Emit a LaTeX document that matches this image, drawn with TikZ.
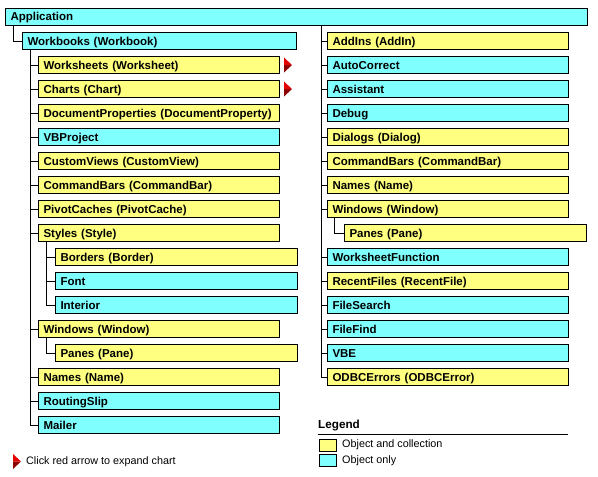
\documentclass[tikz,border=0pt]{standalone}
\usepackage{fontspec}
\newfontfamily\chartfont{Liberation Sans}
\definecolor{collfill}{rgb}{1.000000, 1.000000, 0.500000}
\definecolor{onlyfill}{rgb}{0.500000, 1.000000, 1.000000}
\definecolor{arrowlight}{rgb}{0.900000, 0.000000, 0.000000}
\definecolor{arrowdark}{rgb}{0.560000, 0.000000, 0.000000}
\newlength{\du}
\setlength{\du}{1pt}
\hyphenpenalty=10000
\newcommand{\expandarrow}[1]{%
\fill[arrowlight] #1 ++(0\du,-7.5\du) -- ++(8\du,7.5\du) -- ++(-8\du,0\du) -- cycle;
\fill[arrowdark] #1 -- ++(8\du,0\du) -- ++(-8\du,7.5\du) -- cycle;}
\tikzset{
  objbox/.style={draw=black, line width=1\du, rectangle, anchor=west, minimum height=17\du,
    inner xsep=5\du, inner ysep=0pt, align=left, text width=231\du,
    text height=10\du, text depth=1.8\du,
    font=\chartfont\bfseries\fontsize{11.5}{13}\selectfont},
  collbox/.style={objbox, fill=collfill},
  onlybox/.style={objbox, fill=onlyfill},
  subbox/.style={text width=232\du},
  swatch/.style={draw=black, line width=1\du, anchor=west, minimum width=17\du,
    minimum height=12\du, inner sep=0pt},
  note/.style={anchor=west, inner sep=0pt, font=\chartfont\fontsize{10.8}{13}\selectfont},
  link/.style={draw=black, line width=1\du},
}
\begin{document}
\begin{tikzpicture}
\pgftransformxscale{1.000000}
\pgftransformyscale{-1.000000}
\fill[white] (0\du,0\du) rectangle (598\du,477\du);
\useasboundingbox (0\du,0\du) rectangle (598\du,477\du);
% root
\node[onlybox, text width=572\du] (app) at (5\du,16.5\du){Application};
\node[onlybox, text width=264\du] (wb) at (22\du,41\du){Workbooks (Workbook)};
% left column
\node[collbox] (wsh) at (38\du,65\du){Worksheets (Worksheet)};
\node[collbox] (cht) at (38\du,89\du){Charts (Chart)};
\node[collbox] (docp) at (38\du,113\du){DocumentProperties (DocumentProperty)};
\node[onlybox] (vbp) at (38\du,137\du){VBProject};
\node[collbox] (cview) at (38\du,161\du){CustomViews (CustomView)};
\node[collbox] (lcbar) at (38\du,185\du){CommandBars (CommandBar)};
\node[collbox] (pcache) at (38\du,209\du){PivotCaches (PivotCache)};
\node[collbox] (sty) at (38\du,233\du){Styles (Style)};
\node[collbox, subbox] (brd) at (55\du,257\du){Borders (Border)};
\node[onlybox, subbox] (fnt) at (55\du,281\du){Font};
\node[onlybox, subbox] (intr) at (55\du,305\du){Interior};
\node[collbox] (lwin) at (38\du,329\du){Windows (Window)};
\node[collbox, subbox] (lpane) at (55\du,353\du){Panes (Pane)};
\node[collbox] (lname) at (38\du,377\du){Names (Name)};
\node[onlybox] (rslip) at (38\du,401\du){RoutingSlip};
\node[onlybox] (mail) at (38\du,425\du){Mailer};
% right column
\node[collbox] (addin) at (327\du,41\du){AddIns (AddIn)};
\node[onlybox] (acorr) at (327\du,65\du){AutoCorrect};
\node[onlybox] (asst) at (327\du,89\du){Assistant};
\node[onlybox] (dbg) at (327\du,113\du){Debug};
\node[collbox] (dlg) at (327\du,137\du){Dialogs (Dialog)};
\node[collbox] (rcbar) at (327\du,161\du){CommandBars (CommandBar)};
\node[collbox] (rname) at (327\du,185\du){Names (Name)};
\node[collbox] (rwin) at (327\du,209\du){Windows (Window)};
\node[collbox, subbox] (rpane) at (344\du,233\du){Panes (Pane)};
\node[onlybox] (wsfn) at (327\du,257\du){WorksheetFunction};
\node[collbox] (rfile) at (327\du,281\du){RecentFiles (RecentFile)};
\node[onlybox] (fsearch) at (327\du,305\du){FileSearch};
\node[onlybox] (ffind) at (327\du,329\du){FileFind};
\node[onlybox] (vbe) at (327\du,353\du){VBE};
\node[collbox] (odbc) at (327\du,377\du){ODBCErrors (ODBCError)};
% connectors
\draw[link] ([xshift=8\du]app.south west) |- (wb.west);
\draw[link] ([xshift=8\du]wb.south west) |- (wsh.west);
\draw[link] ([xshift=8\du]wb.south west) |- (cht.west);
\draw[link] ([xshift=8\du]wb.south west) |- (docp.west);
\draw[link] ([xshift=8\du]wb.south west) |- (vbp.west);
\draw[link] ([xshift=8\du]wb.south west) |- (cview.west);
\draw[link] ([xshift=8\du]wb.south west) |- (lcbar.west);
\draw[link] ([xshift=8\du]wb.south west) |- (pcache.west);
\draw[link] ([xshift=8\du]wb.south west) |- (sty.west);
\draw[link] ([xshift=8\du]wb.south west) |- (lwin.west);
\draw[link] ([xshift=8\du]wb.south west) |- (lname.west);
\draw[link] ([xshift=8\du]wb.south west) |- (rslip.west);
\draw[link] ([xshift=8\du]wb.south west) |- (mail.west);
\draw[link] ([xshift=8.5\du]sty.south west) |- (brd.west);
\draw[link] ([xshift=8.5\du]sty.south west) |- (fnt.west);
\draw[link] ([xshift=8.5\du]sty.south west) |- (intr.west);
\draw[link] ([xshift=8.5\du]lwin.south west) |- (lpane.west);
\draw[link] ([xshift=24.5\du]app.south) |- (addin.west);
\draw[link] ([xshift=24.5\du]app.south) |- (acorr.west);
\draw[link] ([xshift=24.5\du]app.south) |- (asst.west);
\draw[link] ([xshift=24.5\du]app.south) |- (dbg.west);
\draw[link] ([xshift=24.5\du]app.south) |- (dlg.west);
\draw[link] ([xshift=24.5\du]app.south) |- (rcbar.west);
\draw[link] ([xshift=24.5\du]app.south) |- (rname.west);
\draw[link] ([xshift=24.5\du]app.south) |- (rwin.west);
\draw[link] ([xshift=24.5\du]app.south) |- (wsfn.west);
\draw[link] ([xshift=24.5\du]app.south) |- (rfile.west);
\draw[link] ([xshift=24.5\du]app.south) |- (fsearch.west);
\draw[link] ([xshift=24.5\du]app.south) |- (ffind.west);
\draw[link] ([xshift=24.5\du]app.south) |- (vbe.west);
\draw[link] ([xshift=24.5\du]app.south) |- (odbc.west);
\draw[link] ([xshift=7\du]rwin.south west) |- (rpane.west);
% expand arrows
\expandarrow{([xshift=4\du]wsh.east)}
\expandarrow{([xshift=4\du]cht.east)}
\node[note] (clicknote) at (26\du,461.5\du){Click red arrow to expand chart};
\expandarrow{([xshift=-13\du]clicknote.west)}
% legend
\node[note, font=\chartfont\bfseries\fontsize{11.7}{13}\selectfont] (leghead) at (318\du,425\du){Legend};
\draw[link] (318\du,434\du) -- (568\du,434\du);
\node[swatch, fill=collfill] (legcoll) at (319\du,445\du){};
\node[swatch, fill=onlyfill] (legonly) at (319\du,460.7\du){};
\node[note] (legcolltext) at (342\du,445\du){Object and collection};
\node[note] (legonlytext) at (342\du,460.7\du){Object only};
\end{tikzpicture}
\end{document}
